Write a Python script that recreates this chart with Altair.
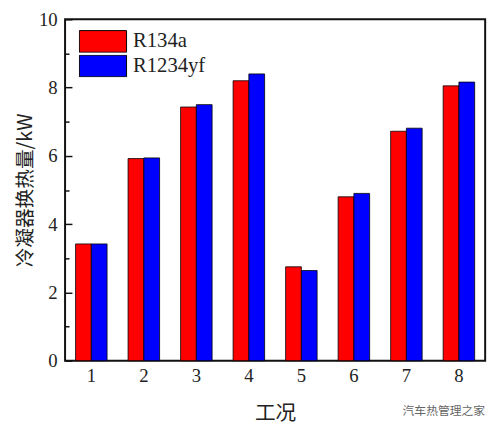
import altair as alt
import pandas as pd

conditions = ["1", "2", "3", "4", "5", "6", "7", "8"]
series_names = ["R134a", "R1234yf"]
r134a = [3.42, 5.92, 7.43, 8.20, 2.75, 4.80, 6.72, 8.05]
r1234yf = [3.42, 5.94, 7.50, 8.40, 2.64, 4.90, 6.81, 8.16]
colors = ["#ff0000", "#0000ff"]
major_ticks = [0, 2, 4, 6, 8, 10]
minor_ticks = [1, 3, 5, 7, 9]

rows = []
for c, a, b in zip(conditions, r134a, r1234yf):
    rows.append({"cond": c, "series": series_names[0], "value": a})
    rows.append({"cond": c, "series": series_names[1], "value": b})
df = pd.DataFrame(rows)

serif = "Liberation Serif"
cjk = "Noto Sans CJK SC"

yscale = alt.Scale(domain=[0, 10], nice=False)
rect_path = "M-1,-0.4583L1,-0.4583L1,0.4583L-1,0.4583Z"

base = alt.Chart(df).encode(
    x=alt.X(
        "cond:O",
        sort=conditions,
        scale=alt.Scale(paddingInner=0.4, paddingOuter=0.2),
        axis=alt.Axis(
            title="工况", titleFont=cjk, titleFontSize=21, titleFontWeight="normal",
            titleColor="#222", titlePadding=18,
            labelFont=serif, labelFontSize=19, labelColor="#222", labelAngle=0,
            labelPadding=6, ticks=False, domain=False,
        ),
    ),
    xOffset=alt.XOffset("series:N", sort=series_names),
)

bars = base.mark_bar(stroke="black", strokeWidth=0.8).encode(
    y=alt.Y(
        "value:Q",
        scale=yscale,
        axis=alt.Axis(
            title="冷凝器换热量/kW", titleFont=cjk, titleFontSize=20,
            titleFontWeight="normal", titleColor="#222", titlePadding=3,
            labelFont=serif, labelFontSize=19, labelColor="#222",
            values=major_ticks, tickSize=7, tickColor="#111", tickWidth=1.5,
            offset=-7, labelPadding=8, domain=False, grid=False, zindex=2,
        ),
    ),
    color=alt.Color(
        "series:N",
        sort=series_names,
        scale=alt.Scale(domain=series_names, range=colors),
        legend=alt.Legend(
            title=None, orient="none", legendX=14, legendY=11,
            symbolType=rect_path, symbolSize=2304, symbolStrokeColor="black",
            symbolStrokeWidth=1, symbolOpacity=1, clipHeight=23,
            labelFont=serif, labelFontSize=21, labelColor="#222",
            labelOffset=6, rowPadding=2,
        ),
    ),
)

minor = base.mark_bar(opacity=0).encode(
    y=alt.Y(
        "value:Q",
        scale=yscale,
        axis=alt.Axis(
            title=None, labels=False, values=minor_ticks, tickSize=4,
            tickColor="#111", tickWidth=1.5, offset=-4, domain=False,
            grid=False, orient="left", zindex=2,
        ),
    ),
)

chart = (
    alt.layer(bars, minor)
    .resolve_axis(y="independent")
    .properties(
        width=427, height=347,
        padding={"left": 58, "top": 8, "right": 10, "bottom": 68},
        autosize=alt.AutoSizeParams(type="none"),
        title=alt.TitleParams(
            "汽车热管理之家", orient="bottom", anchor="end",
            font=cjk, fontSize=12, fontWeight="normal", color="#666",
            offset=-18, dx=0,
        ),
    )
    .configure(background="white")
    .configure_view(stroke="#111", strokeWidth=2)
)

chart.save("out.html", embed_options={"renderer": "svg", "actions": False})
